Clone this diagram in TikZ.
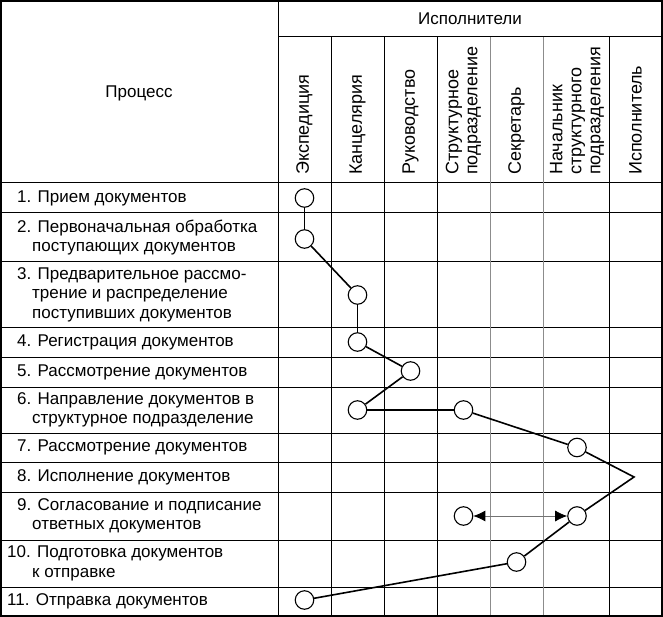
\documentclass[tikz,border=0pt]{standalone}
\usepackage{fontspec}
\setmainfont{Liberation Sans}
\usetikzlibrary{arrows.meta}
\begin{document}
\begin{tikzpicture}[x=1pt,y=-1pt,
  every node/.style={inner sep=0pt, font=\fontsize{17}{19.5}\selectfont},
  gridline/.style={line width=1pt, black},
  lightgrid/.style={line width=1pt, black!45},
  frame/.style={line width=1.6pt},
  stage/.style={circle, draw, line width=1.1pt, fill=white, minimum size=18.5pt},
  flow/.style={line width=1.6pt},
  proc/.style={anchor=west, align=left},
  head/.style={rotate=90, anchor=west, align=left, font=\fontsize{18}{19}\selectfont},
  dbl/.style={line width=0.8pt, black!55, {Latex[length=12pt,width=11pt,color=black]}-{Latex[length=12pt,width=11pt,color=black]}}
]
\useasboundingbox (0,0) rectangle (663,617);
% grid
\draw[gridline] (278,37) -- (662,37);
\foreach \y in {183,213,262,327,357,387,433,462,492,540,587}
  \draw[gridline] (1,\y) -- (662,\y);
\draw[gridline] (278,1) -- (278,616);
\foreach \x in {331,384,437,609}
  \draw[gridline] (\x,37) -- (\x,616);
\foreach \x in {490,543}
  \draw[lightgrid] (\x,37) -- (\x,616);
\draw[frame] (1,1) rectangle (662,616);

% header texts
\node (proc) at (139,93) {Процесс};
\node (isp) at (470,19) {Исполнители};
\node[head] (h1) at (304.5,175) {Экспедиция};
\node[head] (h2) at (357.5,175) {Канцелярия};
\node[head] (h3) at (410.5,175) {Руководство};
\node[head] (h4) at (463.5,175) {Структурное\\подразделение};
\node[head] (h5) at (516.5,175) {Секретарь};
\node[head] (h6) at (577,175) {Начальник\\структурного\\подразделения};
\node[head] (h7) at (635.5,175) {Исполнитель};

% process rows
\node[proc] (r1) at (17,198) {1. Прием документов};
\node[proc] (r2) at (17,237.5) {2. Первоначальная обработка\\\hspace*{15pt}поступающих документов};
\node[proc] (r3) at (17,294.5) {3. Предварительное рассмо-\\\hspace*{15pt}трение и распределение\\\hspace*{15pt}поступивших документов};
\node[proc] (r4) at (17,342) {4. Регистрация документов};
\node[proc] (r5) at (17,372) {5. Рассмотрение документов};
\node[proc] (r6) at (17,410) {6. Направление документов в\\\hspace*{15pt}структурное подразделение};
\node[proc] (r7) at (17,447.5) {7. Рассмотрение документов};
\node[proc] (r8) at (17,477) {8. Исполнение документов};
\node[proc] (r9) at (17,516) {9. Согласование и подписание\\\hspace*{15pt}ответных документов};
\node[proc] (r10) at (7,563.5) {10. Подготовка документов\\\hspace*{25pt}к отправке};
\node[proc] (r11) at (7,601) {11. Отправка документов};

% stages
\node[stage] (s1) at (304.5,198) {};
\node[stage] (s2) at (304.5,239) {};
\node[stage] (s3) at (357.5,295) {};
\node[stage] (s4) at (357.5,342) {};
\node[stage] (s5) at (410.5,371) {};
\node[stage] (s6a) at (357.5,410) {};
\node[stage] (s6b) at (463.5,410) {};
\node[stage] (s7) at (577,447.5) {};
\coordinate (s8) at (634,477);
\node[stage] (s9a) at (463.5,516) {};
\node[stage] (s9b) at (577,516) {};
\node[stage] (s10) at (516.5,562) {};
\node[stage] (s11) at (304.5,600) {};

\draw[flow] (s1) -- (s2);
\draw[flow] (s2) -- (s3);
\draw[flow] (s3) -- (s4);
\draw[flow] (s4) -- (s5);
\draw[flow] (s5) -- (s6a);
\draw[flow] (s6a) -- (s6b);
\draw[flow] (s6b) -- (s7);
\draw[flow, line join=miter] (s7) -- (s8) -- (s9b);
\draw[flow] (s9b) -- (s10);
\draw[flow] (s10) -- (s11);
\draw[dbl] (s9a) -- (s9b);
\end{tikzpicture}
\end{document}
